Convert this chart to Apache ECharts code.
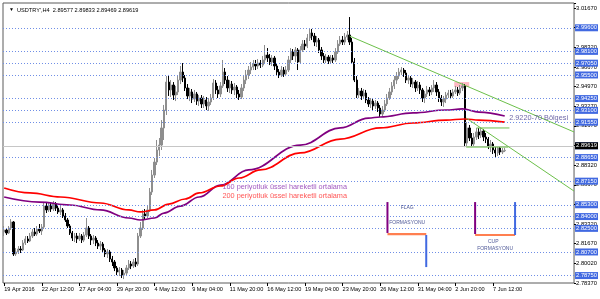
<!DOCTYPE html>
<html><head><meta charset="utf-8">
<script src="https://cdn.jsdelivr.net/npm/echarts@6/dist/echarts.min.js"></script>
<style>html,body{margin:0;padding:0;background:#fff}#c{width:600px;height:299px}</style>
</head><body><div id="c"></div>
<script>
const symbolTitle = "USDTRY',H4";
const lastOHLC = ['2.89577', '2.89833', '2.89469', '2.89619'];
const xTickLabels = ['19 Apr 2016', '22 Apr 12:00', '27 Apr 04:00', '29 Apr 20:00', '4 May 12:00', '9 May 04:00',
  '11 May 20:00', '16 May 12:00', '19 May 04:00', '23 May 20:00', '26 May 12:00', '31 May 04:00', '2 Jun 20:00', '7 Jun 12:00'];
const xTickStep = 16;
const barSlots = 243;
const priceMin = 2.7837, priceMax = 3.0210;
const scaleLabels = ['2.78370', '2.80020', '2.81670', '2.83320', '2.85020', '2.86670', '2.88320', '2.89970',
  '2.91670', '2.93270', '2.94970', '2.96670', '2.98320', '2.99970', '3.01670'];
const scaleStep = 0.016643;
const levelLines = [2.99600, 2.98100, 2.97050, 2.95500, 2.94250, 2.93100, 2.91550, 2.90000, 2.88650,
  2.87150, 2.85300, 2.84000, 2.82500, 2.80700, 2.78750];
const currentPrice = 2.89619;
// [open, close, low, high]
const ohlc = [
[2.8269,2.8286,2.8235,2.8320],[2.8286,2.8261,2.8244,2.8303],[2.8261,2.8303,2.8252,2.8320],[2.8303,2.8354,2.8286,2.8379],
[2.8354,2.8083,2.8066,2.8362],[2.8083,2.8100,2.8066,2.8133],[2.8100,2.8125,2.8083,2.8150],[2.8125,2.8117,2.8091,2.8150],
[2.8117,2.8176,2.8108,2.8201],[2.8176,2.8210,2.8159,2.8235],[2.8210,2.8193,2.8176,2.8235],[2.8193,2.8235,2.8184,2.8261],
[2.8235,2.8269,2.8218,2.8294],[2.8269,2.8252,2.8235,2.8303],[2.8252,2.8294,2.8235,2.8320],[2.8294,2.8278,2.8261,2.8337],
[2.8278,2.8311,2.8244,2.8337],[2.8311,2.8489,2.8294,2.8515],[2.8489,2.8456,2.8430,2.8515],[2.8456,2.8498,2.8439,2.8523],
[2.8498,2.8464,2.8439,2.8515],[2.8464,2.8506,2.8447,2.8532],[2.8506,2.8472,2.8447,2.8523],[2.8472,2.8439,2.8422,2.8498],
[2.8439,2.8456,2.8413,2.8489],[2.8456,2.8405,2.8388,2.8472],[2.8405,2.8371,2.8354,2.8430],[2.8371,2.8320,2.8303,2.8388],
[2.8320,2.8261,2.8244,2.8337],[2.8261,2.8218,2.8193,2.8278],[2.8218,2.8235,2.8184,2.8261],[2.8235,2.8210,2.8176,2.8261],
[2.8210,2.8235,2.8193,2.8261],[2.8235,2.8201,2.8176,2.8252],[2.8201,2.8244,2.8184,2.8269],[2.8244,2.8303,2.8227,2.8388],
[2.8303,2.8235,2.8210,2.8320],[2.8235,2.8201,2.8159,2.8252],[2.8201,2.8218,2.8167,2.8244],[2.8218,2.8176,2.8150,2.8235],
[2.8176,2.8150,2.8125,2.8201],[2.8150,2.8167,2.8117,2.8193],[2.8167,2.8117,2.8100,2.8184],[2.8117,2.8083,2.8057,2.8133],
[2.8083,2.8100,2.8049,2.8125],[2.8100,2.8040,2.8015,2.8117],[2.8040,2.8015,2.7981,2.8066],[2.8015,2.7964,2.7938,2.8032],
[2.7964,2.7930,2.7904,2.7981],[2.7930,2.7947,2.7896,2.7972],[2.7947,2.7904,2.7879,2.7964],[2.7904,2.7921,2.7870,2.7947],
[2.7921,2.7964,2.7896,2.7989],[2.7964,2.7998,2.7947,2.8032],[2.7998,2.7981,2.7955,2.8023],[2.7981,2.8015,2.7964,2.8040],
[2.8015,2.7998,2.7972,2.8049],[2.7998,2.8235,2.7981,2.8261],[2.8235,2.8303,2.8218,2.8354],[2.8303,2.8422,2.8286,2.8456],
[2.8422,2.8405,2.8379,2.8464],[2.8405,2.8456,2.8388,2.8489],[2.8456,2.8608,2.8439,2.8642],[2.8608,2.8752,2.8583,2.8795],
[2.8752,2.8862,2.8727,2.8896],[2.8862,2.8964,2.8837,2.9049],[2.8964,2.9006,2.8913,2.9066],[2.9006,2.9151,2.8964,2.9218],
[2.9151,2.9303,2.9049,2.9346],[2.9303,2.9540,2.9261,2.9591],[2.9540,2.9473,2.9422,2.9600],[2.9473,2.9515,2.9413,2.9557],
[2.9515,2.9430,2.9388,2.9540],[2.9430,2.9456,2.9379,2.9507],[2.9456,2.9557,2.9430,2.9591],[2.9557,2.9625,2.9523,2.9676],
[2.9625,2.9574,2.9540,2.9701],[2.9574,2.9490,2.9464,2.9600],[2.9490,2.9422,2.9396,2.9523],[2.9422,2.9456,2.9379,2.9490],
[2.9456,2.9396,2.9362,2.9481],[2.9396,2.9439,2.9371,2.9473],[2.9439,2.9379,2.9346,2.9456],[2.9379,2.9405,2.9337,2.9430],
[2.9405,2.9354,2.9320,2.9430],[2.9354,2.9388,2.9320,2.9422],[2.9388,2.9337,2.9303,2.9413],[2.9337,2.9371,2.9295,2.9405],
[2.9371,2.9405,2.9346,2.9439],[2.9405,2.9532,2.9388,2.9566],[2.9532,2.9473,2.9439,2.9557],[2.9473,2.9439,2.9405,2.9507],
[2.9439,2.9507,2.9413,2.9540],[2.9507,2.9625,2.9490,2.9727],[2.9625,2.9557,2.9523,2.9659],[2.9557,2.9490,2.9456,2.9591],
[2.9490,2.9523,2.9447,2.9557],[2.9523,2.9473,2.9439,2.9549],[2.9473,2.9498,2.9430,2.9532],[2.9498,2.9439,2.9405,2.9515],
[2.9439,2.9413,2.9388,2.9473],[2.9413,2.9490,2.9396,2.9523],[2.9490,2.9557,2.9464,2.9591],[2.9557,2.9600,2.9523,2.9642],
[2.9600,2.9642,2.9566,2.9676],[2.9642,2.9667,2.9608,2.9710],[2.9667,2.9693,2.9642,2.9727],[2.9693,2.9676,2.9642,2.9727],
[2.9676,2.9701,2.9650,2.9735],[2.9701,2.9684,2.9659,2.9727],[2.9684,2.9727,2.9667,2.9761],[2.9727,2.9769,2.9701,2.9854],
[2.9769,2.9744,2.9710,2.9828],[2.9744,2.9710,2.9684,2.9778],[2.9710,2.9744,2.9676,2.9769],[2.9744,2.9676,2.9642,2.9761],
[2.9676,2.9625,2.9600,2.9693],[2.9625,2.9600,2.9574,2.9650],[2.9600,2.9642,2.9583,2.9676],[2.9642,2.9608,2.9583,2.9667],
[2.9608,2.9642,2.9591,2.9676],[2.9642,2.9727,2.9625,2.9761],[2.9727,2.9795,2.9701,2.9828],[2.9795,2.9761,2.9727,2.9820],
[2.9761,2.9812,2.9710,2.9837],[2.9812,2.9710,2.9642,2.9828],[2.9710,2.9812,2.9693,2.9845],[2.9812,2.9862,2.9795,2.9896],
[2.9862,2.9845,2.9812,2.9896],[2.9845,2.9913,2.9828,2.9947],[2.9913,2.9956,2.9888,2.9990],[2.9956,2.9930,2.9896,2.9990],
[2.9930,2.9879,2.9845,2.9956],[2.9879,2.9896,2.9837,2.9930],[2.9896,2.9812,2.9786,2.9913],[2.9812,2.9761,2.9727,2.9837],
[2.9761,2.9727,2.9701,2.9786],[2.9727,2.9752,2.9701,2.9778],[2.9752,2.9718,2.9693,2.9769],[2.9718,2.9744,2.9701,2.9769],
[2.9744,2.9727,2.9701,2.9769],[2.9727,2.9795,2.9710,2.9828],[2.9795,2.9862,2.9778,2.9896],[2.9862,2.9896,2.9845,2.9930],
[2.9896,2.9879,2.9854,2.9930],[2.9879,2.9922,2.9854,2.9956],[2.9922,2.9939,2.9896,2.9973],[2.9939,2.9879,2.9854,3.0091],
[2.9879,2.9710,2.9693,2.9913],[2.9710,2.9557,2.9540,2.9744],[2.9557,2.9430,2.9405,2.9591],[2.9430,2.9464,2.9405,2.9490],
[2.9464,2.9422,2.9388,2.9490],[2.9422,2.9447,2.9396,2.9481],[2.9447,2.9388,2.9362,2.9473],[2.9388,2.9354,2.9329,2.9413],
[2.9354,2.9379,2.9320,2.9405],[2.9379,2.9337,2.9303,2.9396],[2.9337,2.9362,2.9312,2.9388],[2.9362,2.9320,2.9286,2.9379],
[2.9320,2.9269,2.9244,2.9346],[2.9269,2.9303,2.9244,2.9337],[2.9303,2.9354,2.9286,2.9388],[2.9354,2.9405,2.9337,2.9439],
[2.9405,2.9456,2.9388,2.9490],[2.9456,2.9507,2.9430,2.9540],[2.9507,2.9557,2.9481,2.9591],[2.9557,2.9591,2.9523,2.9625],
[2.9591,2.9625,2.9566,2.9659],[2.9625,2.9642,2.9600,2.9667],[2.9642,2.9617,2.9583,2.9659],[2.9617,2.9557,2.9532,2.9642],
[2.9557,2.9574,2.9523,2.9600],[2.9574,2.9523,2.9498,2.9591],[2.9523,2.9540,2.9490,2.9574],[2.9540,2.9490,2.9456,2.9557],
[2.9490,2.9515,2.9464,2.9549],[2.9515,2.9473,2.9439,2.9540],[2.9473,2.9405,2.9371,2.9490],[2.9405,2.9439,2.9362,2.9464],
[2.9439,2.9473,2.9413,2.9507],[2.9473,2.9456,2.9422,2.9498],[2.9456,2.9490,2.9430,2.9515],[2.9490,2.9515,2.9456,2.9557],
[2.9515,2.9456,2.9422,2.9540],[2.9456,2.9405,2.9371,2.9481],[2.9405,2.9371,2.9337,2.9430],[2.9371,2.9396,2.9329,2.9422],
[2.9396,2.9430,2.9362,2.9456],[2.9430,2.9447,2.9405,2.9473],[2.9447,2.9422,2.9396,2.9473],[2.9422,2.9456,2.9405,2.9481],
[2.9456,2.9473,2.9439,2.9507],[2.9473,2.9447,2.9422,2.9498],[2.9447,2.9490,2.9430,2.9515],[2.9490,2.9507,2.9464,2.9532],
[2.9507,2.9023,2.8989,2.9523],[2.9023,2.9151,2.8998,2.9201],[2.9151,2.9066,2.9040,2.9176],[2.9066,2.9015,2.8989,2.9108],
[2.9015,2.9074,2.8998,2.9108],[2.9074,2.9117,2.9049,2.9151],[2.9117,2.9091,2.9057,2.9151],[2.9091,2.9125,2.9066,2.9151],
[2.9125,2.9074,2.9040,2.9142],[2.9074,2.9057,2.9023,2.9108],[2.9057,2.8998,2.8972,2.9074],[2.8998,2.9015,2.8947,2.9049],
[2.9015,2.8964,2.8930,2.9032],[2.8964,2.8939,2.8905,2.8989],[2.8939,2.8981,2.8913,2.8998],[2.8981,2.8947,2.8922,2.8989],
[2.8947,2.8958,2.8930,2.8981],[2.89577,2.89619,2.89469,2.89833]
];
// moving averages read at selected bars: [barIndex, price]
const ema160 = [[0,2.8566],[15,2.8523],[28,2.8498],[41,2.8456],[53,2.8388],[58,2.8371],[64,2.8388],[68,2.8430],
  [75,2.8489],[83,2.8566],[92,2.8667],[104,2.8795],[126,2.9006],[143,2.9151],[155,2.9235],[160,2.9244],[174,2.9278],
  [188,2.9303],[195,2.9312],[202,2.9286],[213,2.9252]];
const ema200 = [[0,2.8642],[11,2.8600],[24,2.8566],[41,2.8515],[53,2.8456],[58,2.8439],[64,2.8456],[70,2.8506],
  [77,2.8549],[83,2.8600],[92,2.8659],[100,2.8727],[109,2.8795],[126,2.8939],[143,2.9057],[160,2.9151],[174,2.9193],
  [188,2.9218],[196,2.9227],[202,2.9218],[213,2.9201]];
const trendLines = [
  [[147, 2.9930], [242.5, 2.9117]],
  [[196.6, 2.9235], [242.5, 2.8616]],
  [[201, 2.9151], [215, 2.9151]],
  [[196.6, 2.8989], [214.5, 2.8989]]
];
const flagPurple = [[[163.1, 2.8523], [163.1, 2.8261]], [[200.4, 2.8523], [200.4, 2.8252]]];
const flagOrange = [[[163.1, 2.8252], [179.6, 2.8252]], [[200.4, 2.8244], [217.4, 2.8244]]];
const flagBlue = [[[179.6, 2.8244], [179.6, 2.7972]], [[217.4, 2.8523], [217.4, 2.8244]]];
const pinkZone = [[191.5, 2.9540], [197.9, 2.9498]];
const notes = [
  {text: '160 periyotluk üssel hareketli ortalama', at: [92.9, 2.8650], color: '#8b2fb0', size: 7.3, anchor: 'right'},
  {text: '200 periyotluk üssel hareketli ortalama', at: [92.9, 2.8574], color: '#ff2a2a', size: 7.3, anchor: 'right'},
  {text: '2.9220-70 Bölgesi', at: [214.9, 2.9235], color: '#463d8f', size: 7.3, anchor: 'right'},
  {text: 'FLAG', at: [171.5, 2.8472], color: '#1f2c7c', size: 5, anchor: 'inside'},
  {text: 'FORMASYONU', at: [171.5, 2.8345], color: '#1f2c7c', size: 5, anchor: 'inside'},
  {text: 'CUP', at: [208.1, 2.8184], color: '#1f2c7c', size: 5, anchor: 'inside'},
  {text: 'FORMASYONU', at: [208.9, 2.8125], color: '#1f2c7c', size: 5, anchor: 'inside'}
];

const FONT = 'Liberation Sans';
const categories = Array.from({length: barSlots}, (_, i) => String(i));
const tickShown = (i) => i % xTickStep === 0 && (i / xTickStep) < xTickLabels.length;

function segSeries(list, color, width, z) {
  return list.map(pts => ({
    type: 'line', xAxisIndex: 1, yAxisIndex: 0, data: pts, symbol: 'none', silent: true, z: z,
    lineStyle: {color: color, width: width}, animation: false
  }));
}

const levelData = levelLines.map(v => ({yAxis: v, label: {formatter: v.toFixed(5)}}));
levelData.push({yAxis: currentPrice, lineStyle: {type: 'solid', color: '#c6c6c6'},
  label: {formatter: currentPrice.toFixed(5), backgroundColor: '#000', color: '#fff'}});

const option = {
  animation: false,
  backgroundColor: '#fff',
  textStyle: {fontFamily: FONT},
  title: {
    left: 4, top: 2,
    text: '{t|▼}  ' + symbolTitle + '  ' + lastOHLC.join(' '),
    textStyle: {fontSize: 5.6, fontWeight: 'normal', color: '#000', fontFamily: FONT,
      rich: {t: {fontSize: 5, color: '#000'}}}
  },
  grid: {left: 3, right: 25, top: 3, bottom: 16, show: true, borderColor: '#5a5a5a', borderWidth: 1, backgroundColor: '#fff'},
  xAxis: [
    {type: 'category', data: categories, boundaryGap: true,
      axisLine: {show: false},
      axisTick: {show: true, interval: (i) => tickShown(i), alignWithLabel: true, length: 3, lineStyle: {color: '#000'}},
      axisLabel: {interval: (i) => tickShown(i), formatter: (v, i) => xTickLabels[i / xTickStep] || '',
        align: 'left', fontSize: 5.6, color: '#000', margin: 3, fontFamily: FONT},
      splitLine: {show: false}},
    {type: 'value', min: -0.5, max: barSlots - 0.5, show: false}
  ],
  yAxis: [
    {type: 'value', min: priceMin, max: priceMax, show: false, splitLine: {show: false}},
    {type: 'value', position: 'right', min: 0, max: (priceMax - priceMin) / scaleStep, interval: 1,
      axisLine: {show: false}, splitLine: {show: false},
      axisTick: {show: true, length: 2, lineStyle: {color: '#000'}},
      axisLabel: {fontSize: 5.8, color: '#000', margin: 2, fontFamily: FONT,
        formatter: (v) => {
          const k = Math.round(v);
          return Math.abs(v - k) < 1e-6 && scaleLabels[k] ? scaleLabels[k] : '';
        }}}
  ],
  series: [
    {type: 'line', xAxisIndex: 1, yAxisIndex: 0, data: [], silent: true, z: 1,
      markArea: {silent: true, itemStyle: {color: '#ffb9c4'},
        data: [[{coord: pinkZone[0]}, {coord: pinkZone[1]}]]}},
    {type: 'candlestick', xAxisIndex: 0, yAxisIndex: 0, data: ohlc, z: 3,
      barWidth: '78%',
      itemStyle: {color: '#8e8e8e', borderColor: '#8e8e8e', color0: '#000', borderColor0: '#000', borderWidth: 1},
      markLine: {silent: true, symbol: ['none', 'none'], animation: false,
        lineStyle: {type: [1, 2], color: '#6f8ee6', width: 1},
        label: {position: 'end', distance: 1, backgroundColor: '#4169e1', color: '#fff', fontSize: 5.8,
          padding: [1, 1, 0, 1], fontFamily: FONT},
        emphasis: {disabled: true},
        data: levelData}},
    {type: 'line', xAxisIndex: 1, yAxisIndex: 0, data: ema160, symbol: 'none', smooth: 0.4, smoothMonotone: 'x',
      silent: true, z: 4, lineStyle: {color: '#800080', width: 1.7}},
    {type: 'line', xAxisIndex: 1, yAxisIndex: 0, data: ema200, symbol: 'none', smooth: 0.4, smoothMonotone: 'x',
      silent: true, z: 4, lineStyle: {color: '#ff0000', width: 1.7}},
    ...segSeries(trendLines, '#6cc04a', 1, 5),
    ...segSeries(flagPurple, '#800080', 2, 5),
    ...segSeries(flagOrange, '#ff7f50', 2.2, 5),
    ...segSeries(flagBlue, '#4169e1', 2, 5),
    {type: 'scatter', xAxisIndex: 1, yAxisIndex: 0, symbolSize: 0, silent: true, z: 6,
      data: notes.map(n => ({value: n.at, label: {show: true, formatter: n.text, position: n.anchor, distance: 0,
        color: n.color, fontSize: n.size, fontFamily: FONT}}))}
  ]
};
const chart = echarts.init(document.getElementById('c'), null, {renderer: 'canvas'});
chart.setOption(option);
</script></body></html>
